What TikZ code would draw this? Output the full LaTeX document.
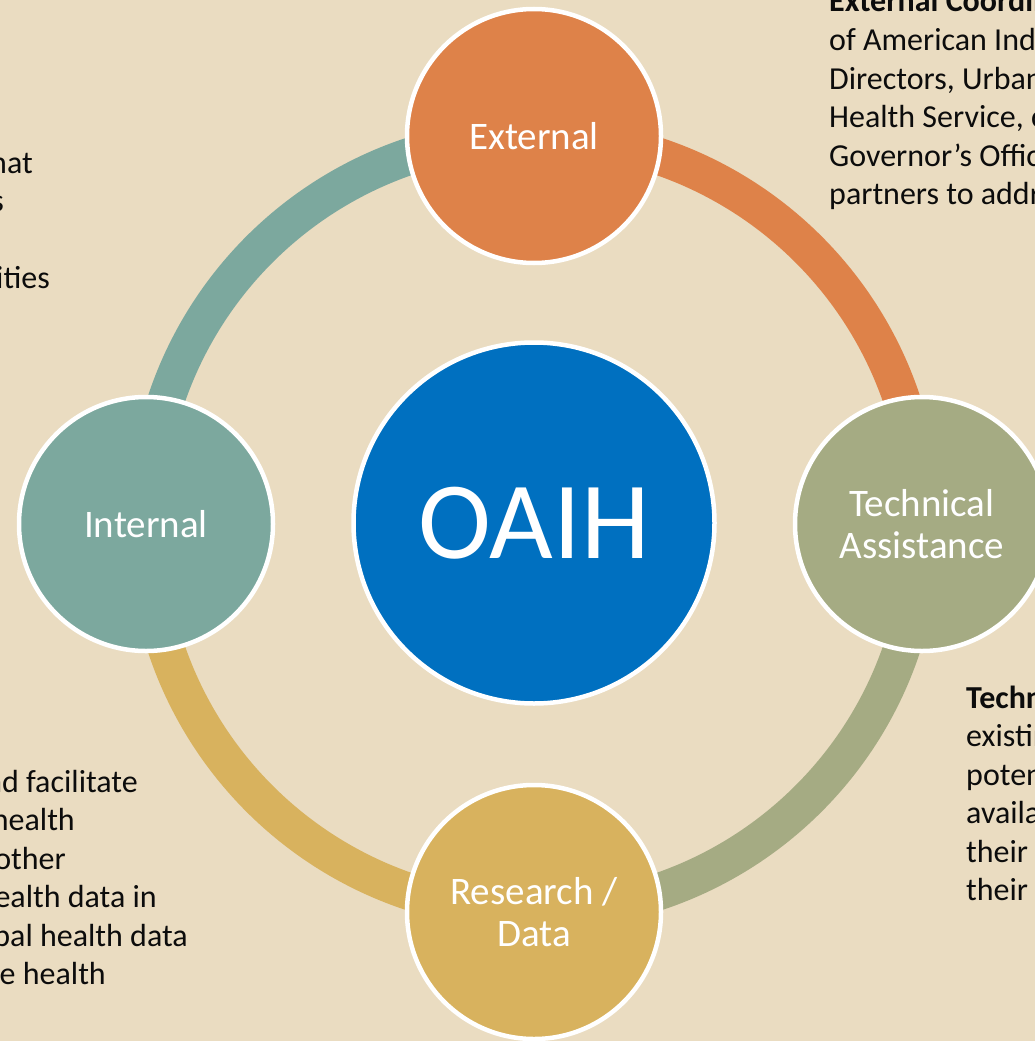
\documentclass[tikz,border=0pt]{standalone}
\usepackage{fontspec}
\setmainfont{Carlito}
\usetikzlibrary{backgrounds}
\definecolor{bgc}{RGB}{234,220,193}
\definecolor{extc}{RGB}{222,130,73}
\definecolor{intc}{RGB}{124,168,158}
\definecolor{tac}{RGB}{165,171,131}
\definecolor{resc}{RGB}{216,178,94}
\definecolor{oaihc}{RGB}{0,112,192}
\definecolor{txt}{RGB}{12,12,12}
\begin{document}
\begin{tikzpicture}[x=1pt,y=-1pt,
  sat/.style={circle,draw=white,line width=4.5pt,minimum size=254pt,inner sep=0pt,
    text=white,align=center,font=\fontsize{39}{42.5}\selectfont},
  ring/.style={line width=37pt},
  side/.style={text=txt,font=\fontsize{32}{38.5}\selectfont,inner sep=0pt}]
\useasboundingbox (0,0) rectangle (1035,1041);
\clip (0,0) rectangle (1035,1041);

% satellite circles and centre
\node[sat,fill=extc] (ext) at (534,136) {External};
\node[sat,fill=intc] (int) at (146,524) {Internal};
\node[sat,fill=tac]  (ta)  at (922,524) {Technical\\Assistance};
\node[sat,fill=resc] (res) at (534,912) {Research /\\Data};
\node[circle,draw=white,line width=4.5pt,minimum size=361pt,inner sep=0pt,
      fill=oaihc,text=white,font=\fontsize{110}{114}\selectfont] (oaih) at (534,523) {OAIH};

% ring segments behind the circles
\begin{pgfonlayer}{background}
\fill[bgc] (0,0) rectangle (1035,1041);
\draw[ring,intc] (int.center) to[out=90,in=180] (ext.center);
\draw[ring,extc] (ext.center) to[out=0,in=90] (ta.center);
\draw[ring,tac]  (ta.center)  to[out=-90,in=0] (res.center);
\draw[ring,resc] (res.center) to[out=180,in=-90] (int.center);
\end{pgfonlayer}

% top-right text (clipped at the edge)
\node[side,anchor=base west] (tr1) at (829,12) {\textbf{External Coordination}};
\node[side,anchor=base west] (tr2) at (829,50.5) {of American Indian};
\node[side,anchor=base west] (tr3) at (829,89) {Directors, Urban};
\node[side,anchor=base west] (tr4) at (829,127.5) {Health Service, county};
\node[side,anchor=base west] (tr5) at (829,166) {Governor’s Office};
\node[side,anchor=base west] (tr6) at (829,204.5) {partners to address};

% bottom-right text
\node[side,anchor=base west] (br1) at (966,708) {\textbf{Technical}};
\node[side,anchor=base west] (br2) at (966,746.5) {existing};
\node[side,anchor=base west] (br3) at (966,785) {potential};
\node[side,anchor=base west] (br4) at (966,823.5) {available};
\node[side,anchor=base west] (br5) at (966,862) {their};
\node[side,anchor=base west] (br6) at (966,900.5) {their};

% top-left text
\node[side,anchor=base east] (tl1) at (33,173) {that};
\node[side,anchor=base east] (tl2) at (4,211.5) {s};
\node[side,anchor=base east] (tl3) at (50,288.5) {communities};

% bottom-left text
\node[side,anchor=base east] (bl1) at (138,792) {and facilitate};
\node[side,anchor=base east] (bl2) at (75,830.5) {health};
\node[side,anchor=base east] (bl3) at (66,869) {other};
\node[side,anchor=base east] (bl4) at (157,907.5) {health data in};
\node[side,anchor=base east] (bl5) at (188,946) {global health data};
\node[side,anchor=base east] (bl6) at (106,984.5) {the health};
\end{tikzpicture}
\end{document}
